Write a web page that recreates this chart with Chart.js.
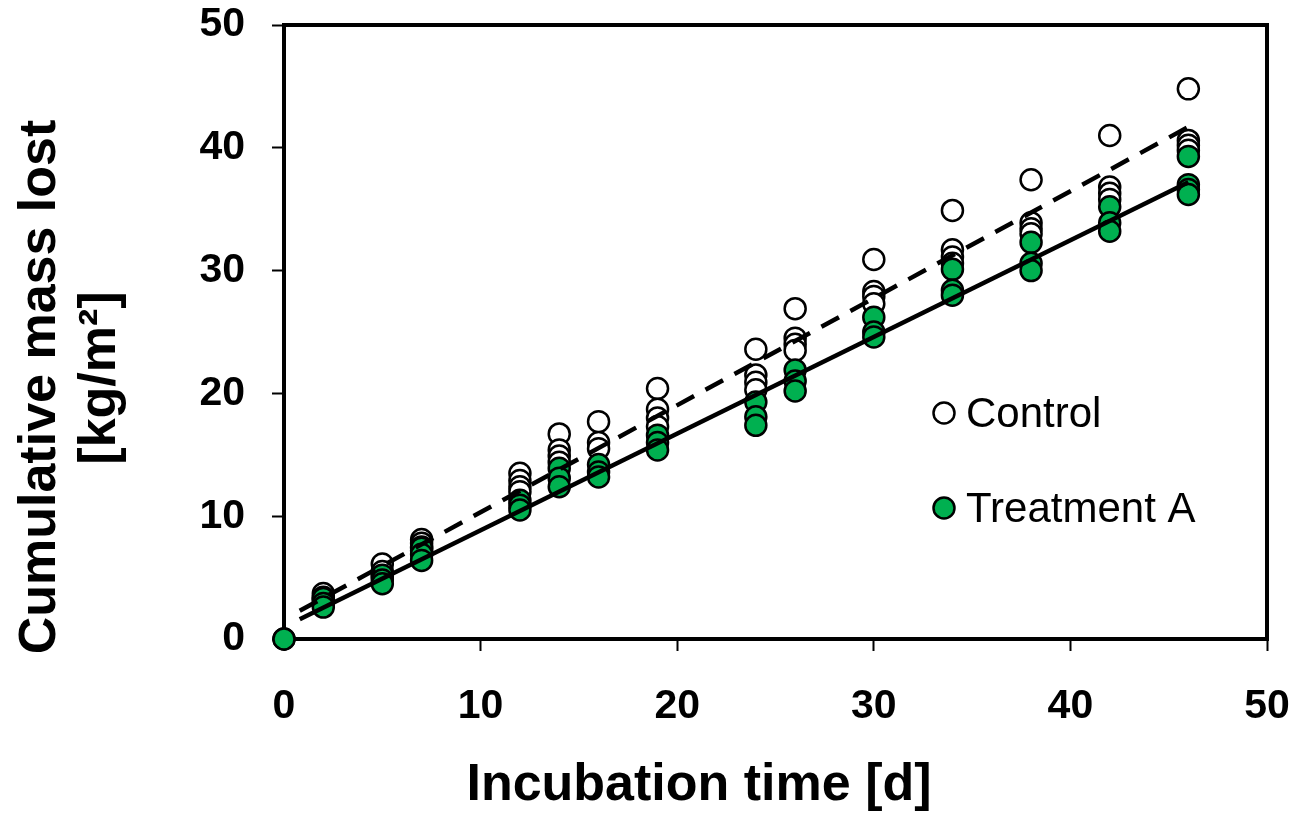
<!DOCTYPE html>
<html>
<head>
<meta charset="utf-8">
<script src="https://cdn.jsdelivr.net/npm/chart.js@4"></script>
<style>
  html, body { margin:0; padding:0; background:#fff; }
  canvas { display:block; }
</style>
</head>
<body>
<canvas id="chart" width="1297" height="814"></canvas>
<script>
/* data */
var days = [0, 2, 5, 7, 12, 14, 16, 19, 24, 26, 30, 34, 38, 42, 46];
var controlValues = [
  [0], [3.7, 3.4, 3.2], [6.1, 5.5, 5.1], [8.1, 7.8, 7.5, 7.2],
  [13.5, 12.9, 12.4, 12.0], [16.7, 15.4, 14.9, 14.4], [17.7, 16.0, 15.5],
  [20.4, 18.7, 18.0, 17.3], [23.6, 21.5, 20.9, 20.3], [26.9, 24.5, 24.0, 23.5],
  [30.9, 28.3, 27.9, 27.3], [34.9, 31.7, 31.1, 30.6], [37.4, 33.9, 33.4, 33.0],
  [41.0, 36.8, 36.3, 35.8], [44.8, 40.6, 40.2, 39.8]
];
var treatmentValues = [
  [0], [3.3, 2.9, 2.6], [5.2, 4.8, 4.5], [7.4, 6.9, 6.4],
  [11.3, 10.9, 10.5], [13.9, 13.1, 12.4], [14.2, 13.6, 13.2],
  [16.6, 16.0, 15.4], [19.3, 18.1, 17.4], [21.9, 21.0, 20.2],
  [26.2, 25.0, 24.6], [30.1, 28.4, 28.0], [32.3, 30.6, 30.0],
  [35.2, 33.9, 33.2], [39.3, 37.0, 36.6, 36.2]
];
var fitX = [0.8, 46];
var controlFit = [2.3, 41.7];
var treatmentFit = [1.6, 37.2];
var xTicks = [0, 10, 20, 30, 40, 50];
var yTicks = [0, 10, 20, 30, 40, 50];
var seriesNames = ['Control', 'Treatment A'];

var GREEN = '#00B050';
var FONT = '"Liberation Sans", Arial, sans-serif';

function toPoints(vals){
  var pts = [];
  days.forEach(function(d, i){
    vals[i].forEach(function(v){ pts.push({x:d, y:v}); });
  });
  return pts;
}
function linePoints(ys){
  return fitX.map(function(x, i){ return {x:x, y:ys[i]}; });
}
// labels may overhang the plot box, so drop the extra room chart.js reserves for them
function noLabelPadding(s){
  s.paddingTop = 0; s.paddingBottom = 0; s.paddingLeft = 0; s.paddingRight = 0;
}

// frame, axis titles and the in-plot legend
var decorPlugin = {
  id:'decor',
  beforeDatasetsDraw:function(chart){
    var ctx = chart.ctx, a = chart.chartArea;
    ctx.save();
    ctx.strokeStyle = '#000';
    ctx.lineWidth = 4;
    ctx.strokeRect(a.left, a.top, a.right - a.left, a.bottom - a.top);
    ctx.restore();
  },
  afterDraw:function(chart){
    var ctx = chart.ctx;
    ctx.save();
    ctx.fillStyle = '#000';
    ctx.font = 'bold 52px ' + FONT;
    ctx.textAlign = 'center';
    ctx.textBaseline = 'alphabetic';
    ctx.fillText('Incubation time [d]', 699, 800);

    ctx.save();
    ctx.translate(55, 387);
    ctx.rotate(-Math.PI / 2);
    ctx.fillText('Cumulative mass lost', 0, 0);
    ctx.restore();
    ctx.save();
    ctx.translate(115, 378);
    ctx.rotate(-Math.PI / 2);
    ctx.fillText('[kg/m\u00B2]', 0, 0);
    ctx.restore();

    // legend
    var items = [{y:413, fill:'#fff'}, {y:508, fill:GREEN}];
    ctx.font = '42px ' + FONT;
    ctx.textAlign = 'left';
    ctx.textBaseline = 'middle';
    items.forEach(function(it, i){
      ctx.beginPath();
      ctx.arc(944, it.y, 10.5, 0, Math.PI * 2);
      ctx.fillStyle = it.fill;
      ctx.fill();
      ctx.lineWidth = 2.5;
      ctx.strokeStyle = '#000';
      ctx.stroke();
      ctx.fillStyle = '#000';
      ctx.fillText(seriesNames[i], 966, it.y + 2);
    });
    ctx.restore();
  }
};

var ctx = document.getElementById('chart');
new Chart(ctx, {
  type:'scatter',
  data:{
    datasets:[
      {
        label:'Control fit', type:'line', data:linePoints(controlFit),
        borderColor:'#000', borderWidth:4.5, borderDash:[20, 13],
        pointRadius:0, fill:false, order:0
      },
      {
        label:'Treatment A fit', type:'line', data:linePoints(treatmentFit),
        borderColor:'#000', borderWidth:4.5,
        pointRadius:0, fill:false, order:0
      },
      {
        label:seriesNames[1], data:toPoints(treatmentValues),
        backgroundColor:GREEN, borderColor:'#000', borderWidth:2.5,
        pointRadius:10.5, clip:false, order:1
      },
      {
        label:seriesNames[0], data:toPoints(controlValues),
        backgroundColor:'#fff', borderColor:'#000', borderWidth:2.5,
        pointRadius:10.5, clip:false, order:2
      }
    ]
  },
  options:{
    responsive:false,
    animation:false,
    events:[],
    layout:{padding:{top:25, right:30, left:0, bottom:0}},
    plugins:{legend:{display:false}, tooltip:{enabled:false}},
    scales:{
      x:{
        type:'linear', min:0, max:50,
        afterFit:function(s){ s.height = 175; noLabelPadding(s); },
        afterBuildTicks:function(s){ s.ticks = xTicks.map(function(v){ return {value:v}; }); },
        border:{display:false},
        grid:{drawOnChartArea:false, drawTicks:true, tickLength:12, tickWidth:2, tickColor:'#000'},
        ticks:{color:'#000', padding:31, maxRotation:0, font:{family:FONT, size:41, weight:'bold'}}
      },
      y:{
        type:'linear', min:0, max:50,
        afterFit:function(s){ s.width = 284; noLabelPadding(s); },
        afterBuildTicks:function(s){ s.ticks = yTicks.map(function(v){ return {value:v}; }); },
        border:{display:false},
        grid:{drawOnChartArea:false, drawTicks:true, tickLength:12, tickWidth:2, tickColor:'#000'},
        ticks:{color:'#000', padding:27, font:{family:FONT, size:41, weight:'bold'}}
      }
    }
  },
  plugins:[decorPlugin]
});
</script>
</body>
</html>
